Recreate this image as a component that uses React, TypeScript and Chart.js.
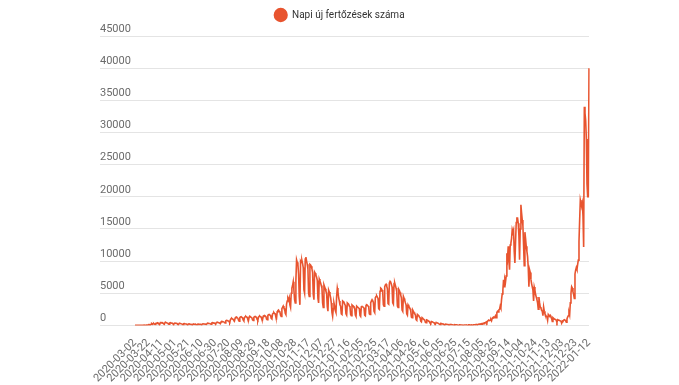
import React, { useEffect, useRef } from 'react';
import { Chart, registerables } from 'chart.js';

Chart.register(...registerables);

const SERIES_LABEL = 'Napi új fertőzések száma';
const START_DATE = '2020-03-02';
const SKIPPED_DATE = '2021-07-25';
const LABEL_STEP = 20;
const Y_MIN = 0;
const Y_MAX = 45000;
const Y_STEP = 5000;

// daily new cases, one row per week
const dailyCases: number[] = [
  0, 0, 2, 3, 2, 2, 5,
  2, 4, 3, 14, 23, 29, 35,
  40, 33, 22, 46, 62, 58, 67,
  143, 76, 60, 186, 263, 160, 250,
  300, 190, 150, 290, 341, 306, 400,
  360, 190, 180, 441, 444, 400, 420,
  360, 250, 190, 440, 470, 420, 390,
  380, 220, 180, 380, 420, 390, 350,
  330, 200, 160, 340, 360, 330, 310,
  290, 170, 140, 300, 320, 290, 260,
  250, 150, 120, 260, 280, 240, 220,
  210, 130, 100, 220, 230, 200, 180,
  180, 110, 90, 190, 210, 180, 160,
  170, 110, 90, 190, 200, 180, 170,
  180, 130, 120, 230, 250, 220, 210,
  220, 170, 150, 300, 330, 310, 290,
  280, 230, 200, 380, 420, 390, 360,
  350, 280, 250, 450, 500, 470, 430,
  420, 330, 300, 550, 620, 600, 560,
  550, 420, 380, 700, 780, 760, 720,
  700, 560, 500, 900, 1050, 1100, 1000,
  950, 780, 700, 1150, 1250, 1300, 1200,
  1150, 800, 650, 1200, 1300, 1350, 1250,
  1200, 850, 700, 1250, 1350, 1400, 1300,
  1250, 900, 750, 1300, 1400, 1350, 1250,
  1200, 850, 750, 1250, 1350, 1400, 1300,
  1250, 900, 800, 1300, 1400, 1450, 1350,
  1300, 950, 850, 1400, 1500, 1550, 1450,
  1400, 1000, 900, 1550, 1650, 1700, 1600,
  1550, 1100, 1000, 1750, 1900, 2000, 1850,
  1800, 1300, 1150, 2100, 2300, 2400, 2200,
  2100, 1600, 1400, 2600, 2800, 3000, 2700,
  2600, 1900, 1700, 3300, 3800, 4200, 3900,
  4300, 3200, 2800, 5000, 5800, 6200, 6800,
  5500, 4000, 3500, 7000, 10200, 9800, 9500,
  8000, 4500, 3200, 10000, 9800, 10100, 9600,
  9000, 5500, 5000, 10300, 10620, 10000, 9500,
  8800, 5000, 4500, 9500, 9400, 9200, 8800,
  8200, 4800, 4000, 8300, 8100, 7800, 7500,
  7000, 4200, 3500, 7200, 6900, 6600, 6200,
  5800, 3500, 2800, 6300, 6000, 5700, 5300,
  5000, 2900, 2200, 5500, 5200, 4800, 4300,
  3500, 2000, 1400, 2600, 3500, 3000, 2300,
  2000, 4500, 5800, 5200, 4300, 3800, 3200,
  3000, 1800, 1700, 3800, 3700, 3600, 3300,
  3100, 1800, 1600, 3500, 3400, 3300, 3000,
  2900, 1700, 1500, 3200, 3100, 3000, 2800,
  2700, 1600, 1400, 3000, 2900, 2900, 2700,
  2600, 1550, 1400, 2900, 2950, 2900, 2800,
  2700, 1600, 1500, 3100, 3200, 3150, 3000,
  2900, 1800, 1700, 3500, 3800, 4000, 3800,
  3600, 2200, 2000, 4300, 4500, 4600, 4400,
  4200, 2600, 2500, 5300, 5800, 5700, 5500,
  5200, 3200, 3000, 6000, 6300, 6400, 6100,
  5700, 3400, 3300, 6600, 6840, 6700, 6400,
  6000, 3500, 3300, 6500, 6600, 6200, 5800,
  5300, 3000, 2800, 5600, 5400, 5100, 4700,
  4300, 2400, 2200, 4500, 4200, 3900, 3500,
  3200, 1800, 1600, 3200, 3000, 2800, 2600,
  2300, 1300, 1200, 2400, 2200, 2000, 1800,
  1600, 900, 800, 1700, 1600, 1500, 1300,
  1200, 650, 550, 1200, 1100, 1000, 900,
  800, 450, 400, 850, 800, 750, 650,
  600, 330, 280, 600, 580, 520, 450,
  420, 230, 200, 450, 430, 390, 340,
  300, 150, 120, 300, 280, 250, 220,
  200, 100, 80, 200, 190, 170, 150,
  140, 70, 60, 150, 140, 120, 100,
  100, 50, 40, 110, 100, 90, 80,
  70, 30, 25, 80, 80, 70, 60,
  60, 25, 20, 70, 70, 60, 50,
  60, 25, 20, 80, 80, 70, 60,
  80, 40, 30, 100, 110, 100, 90,
  150, 100, 80, 180, 200, 210, 200,
  250, 280, 200, 320, 350, 380, 350,
  450, 550, 400, 650, 750, 800, 750,
  800, 900, 700, 1100, 1200, 1290, 1200,
  1300, 1500, 1200, 2000, 2200, 2100, 2400,
  2500, 3000, 2700, 4000, 4900, 5500, 7100,
  6000, 7200, 6800, 7700, 11200, 10500, 12300,
  10000, 8650, 12500, 12800, 13500, 14900, 14500,
  14860, 11500, 9700, 13000, 16000, 16700, 16700,
  15900, 14000, 10200, 15000, 18750, 17500, 16400,
  15500, 12500, 9300, 14500, 13500, 12300, 11500,
  10700, 9000, 6000, 8650, 8240, 7200, 6500,
  6000, 5500, 3800, 5960, 5500, 4800, 4400,
  4000, 3500, 2500, 4400, 3500, 2850, 2700,
  2330, 2200, 1500, 2850, 2200, 1800, 1600,
  1400, 1290, 800, 1700, 1550, 1400, 1550,
  1300, 1100, 600, 1200, 1100, 1000, 950,
  900, 800, 450, 900, 850, 800, 750,
  700, 650, 350, 700, 650, 800, 900,
  850, 700, 500, 1000, 1300, 1500, 2000,
  1600, 3500, 5000, 6000, 5800, 5200, 4800,
  4200, 8000, 8600, 9000, 8700, 9500, 10150,
  13000, 16400, 19500, 19000, 18500, 19000, 17000,
  12200, 34000, 33000, 31900, 29000, 22000, 20000,
  20000, 40000,
];

function buildDates(start: string, count: number, skip: string): string[] {
  const out: string[] = [];
  const d = new Date(start + 'T00:00:00Z');
  while (out.length < count) {
    const s = d.toISOString().slice(0, 10);
    if (s !== skip) out.push(s);
    d.setUTCDate(d.getUTCDate() + 1);
  }
  return out;
}

const dateLabels = buildDates(START_DATE, dailyCases.length, SKIPPED_DATE);

const LINE_COLOR = '#e8542f';
const GRID_COLOR = '#e4e4e4';
const TICK_COLOR = '#6b6b6b';
const FONT_FAMILY = 'Roboto, "Noto Sans", sans-serif';

// adds extra space below the legend
const legendSpacer = {
  id: 'legendSpacer',
  beforeUpdate(chart: any) {
    const legend = chart.legend;
    if (!legend || legend._spacerPatched) return;
    const origFit = legend.fit;
    legend.fit = function () {
      origFit.call(this);
      this.height += 6;
    };
    legend._spacerPatched = true;
  },
};

export default function App() {
  const ref = useRef<HTMLCanvasElement | null>(null);

  useEffect(() => {
    if (!ref.current) return;
    const chart = new Chart(ref.current, {
      type: 'line',
      data: {
        labels: dateLabels,
        datasets: [
          {
            label: SERIES_LABEL,
            data: dailyCases,
            borderColor: LINE_COLOR,
            backgroundColor: LINE_COLOR,
            borderWidth: 1.6,
            pointRadius: 0,
            pointHoverRadius: 0,
            tension: 0,
            fill: false,
          },
        ],
      },
      plugins: [legendSpacer],
      options: {
        responsive: false,
        animation: false,
        layout: { padding: { left: 90, right: 90, top: 0, bottom: -3 } },
        plugins: {
          tooltip: { enabled: false },
          legend: {
            position: 'top',
            labels: {
              usePointStyle: true,
              pointStyle: 'circle',
              boxHeight: 9,
              pointStyleWidth: 12.6,
              padding: 10,
              color: '#333',
              font: { family: FONT_FAMILY, size: 10 },
            },
          },
        },
        scales: {
          x: {
            grid: { display: false },
            border: { display: false },
            ticks: {
              autoSkip: false,
              minRotation: 45,
              maxRotation: 45,
              padding: 3,
              color: TICK_COLOR,
              font: { family: FONT_FAMILY, size: 11 },
              callback: (_v: any, i: number) => (i % LABEL_STEP === 0 ? dateLabels[i] : ''),
            },
          },
          y: {
            min: Y_MIN,
            max: Y_MAX,
            afterFit: (scale: any) => {
              scale.width = 45;
            },
            grid: { color: GRID_COLOR, lineWidth: 1, drawTicks: true, tickLength: 35 },
            border: { display: false },
            ticks: {
              stepSize: Y_STEP,
              mirror: true,
              padding: -35,
              labelOffset: -7,
              crossAlign: 'near',
              color: TICK_COLOR,
              font: { family: FONT_FAMILY, size: 11 },
              callback: (v: any) => String(v),
            },
          },
        },
      },
    } as any);
    return () => chart.destroy();
  }, []);

  return (
    <div style={{ position: 'absolute', left: 0, top: 0, width: 679, height: 385, background: '#fff' }}>
      <canvas ref={ref} width={679} height={385} />
    </div>
  );
}
